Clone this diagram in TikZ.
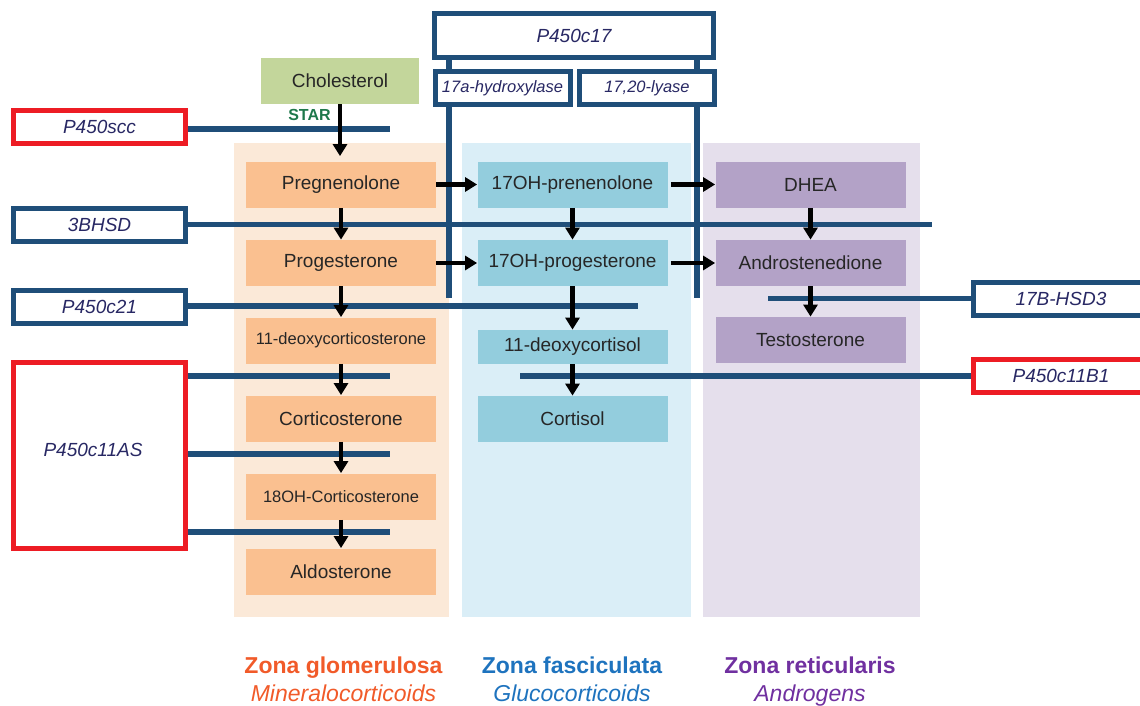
\documentclass[tikz,border=0pt]{standalone}
\usepackage{fontspec}
\setmainfont{Liberation Sans}
\usetikzlibrary{arrows.meta}
\definecolor{glombg}{RGB}{251,233,216}
\definecolor{fascbg}{RGB}{218,238,247}
\definecolor{reticbg}{RGB}{229,223,236}
\definecolor{glomfill}{RGB}{250,192,144}
\definecolor{fascfill}{RGB}{147,205,221}
\definecolor{reticfill}{RGB}{179,162,199}
\definecolor{cholfill}{RGB}{195,214,155}
\definecolor{enzblue}{RGB}{31,78,121}
\definecolor{enzred}{RGB}{237,28,36}
\definecolor{enztext}{RGB}{40,40,100}
\definecolor{startext}{RGB}{30,120,75}
\definecolor{glomtext}{RGB}{241,90,41}
\definecolor{fasctext}{RGB}{30,115,190}
\definecolor{retictext}{RGB}{112,48,160}
\tikzset{
  metab/.style={inner sep=0pt,minimum width=95pt,minimum height=23pt,
    text=black!85,font=\fontsize{9.5}{11}\selectfont},
  metabsmall/.style={metab,font=\fontsize{8.25}{10}\selectfont},
  enzbox/.style={draw=enzblue,line width=2.5pt,fill=white,inner sep=0pt,
    text=enztext,font=\fontsize{9.5}{11}\selectfont\itshape,
    minimum width=86pt,minimum height=16.5pt},
  enzsmall/.style={enzbox,font=\fontsize{8.25}{10}\selectfont\itshape,
    minimum width=67.5pt},
  enzline/.style={draw=enzblue,line width=2.6pt},
  flow/.style={->,line width=2.4pt,black},
  zonename/.style={anchor=base,font=\fontsize{11.5}{13}\selectfont\bfseries},
  zonerole/.style={anchor=base,font=\fontsize{11.5}{13}\selectfont\itshape},
}
\begin{document}
\begin{tikzpicture}[x=0.5pt,y=-0.5pt,>={Triangle[length=6pt,width=7pt]}]
  \useasboundingbox (0,0) rectangle (1140,706);
  \clip (0,0) rectangle (1140,706);
  % zones
  \fill[glombg] (234,143) rectangle (449,617);
  \fill[fascbg] (462,143) rectangle (691,617);
  \fill[reticbg] (703,143) rectangle (920,617);
  % steroids
  \node[metab,fill=cholfill,minimum width=79pt] (chol) at (340,81) {Cholesterol};
  \node[metab,fill=glomfill] (preg) at (341,184.5) {Pregnenolone};
  \node[metab,fill=glomfill] (prog) at (341,263) {Progesterone};
  \node[metabsmall,fill=glomfill] (doc) at (341,340.5) {11-deoxycorticosterone};
  \node[metab,fill=glomfill] (cort) at (341,418.5) {Corticosterone};
  \node[metabsmall,fill=glomfill] (ohcort) at (341,496.5) {18OH-Corticosterone};
  \node[metab,fill=glomfill] (aldo) at (341,571.5) {Aldosterone};
  \node[metab,fill=fascfill] (ohpreg) at (572.5,184.5) {17OH-prenenolone};
  \node[metab,fill=fascfill] (ohprog) at (572.5,263) {17OH-progesterone};
  \node[metab,fill=fascfill,minimum height=17pt] (dcortisol) at (572.5,347) {11-deoxycortisol};
  \node[metab,fill=fascfill] (cortisol) at (572.5,419) {Cortisol};
  \node[metab,fill=reticfill] (dhea) at (810.5,184.5) {DHEA};
  \node[metab,fill=reticfill] (andro) at (810.5,263) {Androstenedione};
  \node[metab,fill=reticfill] (testo) at (810.5,340) {Testosterone};
  \node[font=\fontsize{8}{9}\selectfont\bfseries,text=startext] (star) at (309.5,114.5) {STAR};
  % enzymes
  \node[enzbox,draw=enzred] (scc) at (99.5,127) {P450scc};
  \node[enzbox] (hsd) at (99.5,224.5) {3BHSD};
  \node[enzbox] (c21) at (99.5,307) {P450c21};
  \node[enzbox,draw=enzred,minimum height=93pt] (c11as) at (99.5,455.5) {};
  \node[text=enztext,font=\fontsize{9.5}{11}\selectfont\itshape] (c11aslabel) at (93,450) {P450c11AS};
  \node[enzbox,minimum width=139.5pt,minimum height=22pt] (c17) at (574,35.5) {P450c17};
  \node[enzsmall] (hydrox) at (502.5,88) {17a-hydroxylase};
  \node[enzsmall] (lyase) at (647,88) {17,20-lyase};
  \node[enzbox,minimum width=87.5pt] (hsd3) at (1061,298.5) {17B-HSD3};
  \node[enzbox,draw=enzred,minimum width=87.5pt] (c11b1) at (1061,376) {P450c11B1};
  % enzyme lines
  \coordinate (sccend) at (390,129);
  \coordinate (hsdend) at (932,224.5);
  \coordinate (c21end) at (638,306);
  \coordinate (hydroxbar) at (449,298);
  \coordinate (lyasebar) at (697,298);
  \coordinate (hsd3end) at (768,298.5);
  \coordinate (c11b1end) at (520,376);
  \draw[enzline] (scc.east |- sccend) -- (sccend);
  \draw[enzline] (hsd.east) -- (hsdend);
  \draw[enzline] (c21.east |- c21end) -- (c21end);
  \foreach \y in {376,454,532}
    \draw[enzline] (c11as.east |- 0,\y) -- (390,\y);
  \draw[enzline] (hydroxbar |- c17.south) -- (hydroxbar |- hydrox.north)
    (hydroxbar |- hydrox.south) -- (hydroxbar);
  \draw[enzline] (lyasebar |- c17.south) -- (lyasebar |- lyase.north)
    (lyasebar |- lyase.south) -- (lyasebar);
  \draw[enzline] (hsd3.west) -- (hsd3end);
  \draw[enzline] (c11b1.west) -- (c11b1end);
  % pathway
  \draw[flow,shorten >=2.5pt] (chol.south) -- (chol.south |- preg.north);
  \foreach \a/\b in {preg/prog,prog/doc,doc/cort,cort/ohcort,ohcort/aldo,
    ohpreg/ohprog,ohprog/dcortisol,dcortisol/cortisol,dhea/andro,andro/testo,
    preg/ohpreg,prog/ohprog}
    \draw[flow] (\a) -- (\b);
  \foreach \a/\b in {ohpreg/dhea,ohprog/andro}
    \draw[flow,shorten <=1.5pt] (\a) -- (\b);
  % zone names
  \node[zonename,text=glomtext] (glomname) at (343.5,673.5) {Zona glomerulosa};
  \node[zonerole,text=glomtext] (glomrole) at (343.5,701.5) {Mineralocorticoids};
  \node[zonename,text=fasctext] (fascname) at (572,673.5) {Zona fasciculata};
  \node[zonerole,text=fasctext] (fascrole) at (572,701.5) {Glucocorticoids};
  \node[zonename,text=retictext] (reticname) at (810,673.5) {Zona reticularis};
  \node[zonerole,text=retictext] (reticrole) at (810,701.5) {Androgens};
\end{tikzpicture}
\end{document}
